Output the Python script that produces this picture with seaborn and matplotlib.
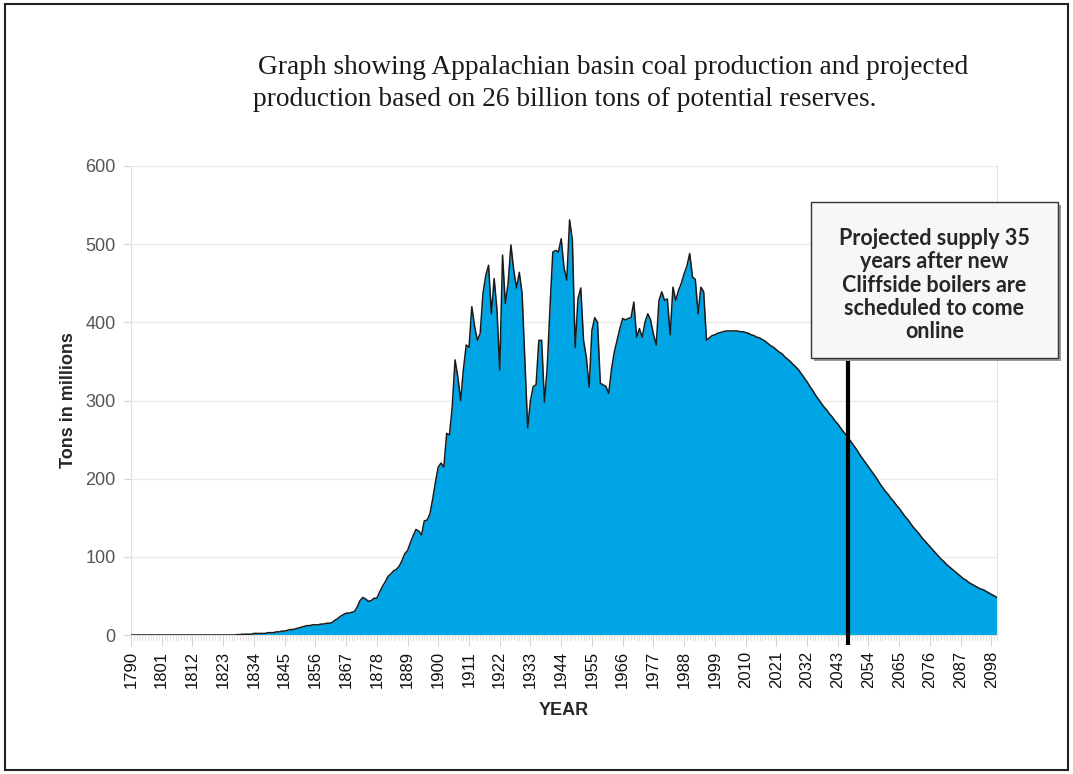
import numpy as np
import pandas as pd
import seaborn as sns
import matplotlib.pyplot as plt
from matplotlib.patches import Rectangle

# Appalachian basin coal production, millions of tons per year
first_year = 1790
hist_tons = [
    0, 0, 0, 0, 0, 0, 0, 0, 0, 0,                      # 1790s
    0, 0, 0, 0, 0, 0, 0, 0, 0, 0,                      # 1800s
    0, 0, 0, 0, 0, 0, 0, 0, 0, 0,                      # 1810s
    0, 0, 0, 0, 0, 0, 0, 0, 0.5, 0.5,                  # 1820s
    1, 1, 1, 1, 2, 2, 2, 2, 2, 3,                      # 1830s
    3, 3, 4, 4, 5, 5, 6, 7, 7, 8,                      # 1840s
    9, 10, 11, 12, 12, 13, 13, 13, 14, 14,             # 1850s
    15, 15, 16, 19, 21, 24, 26, 28, 28, 29,            # 1860s
    30, 36, 44, 48, 46, 43, 44, 47, 47, 55,            # 1870s
    62, 68, 75, 78, 82, 84, 88, 95, 104, 108,          # 1880s
    118, 127, 135, 133, 128, 146, 147, 155, 174, 196,  # 1890s
    215, 220, 215, 258, 256, 292, 352, 330, 300, 340,  # 1900s
    371, 368, 420, 395, 377, 386, 437, 460, 473, 411,  # 1910s
    456, 416, 339, 486, 424, 450, 499, 467, 444, 464,  # 1920s
    437, 350, 265, 300, 318, 320, 377, 377, 298, 343,  # 1930s
    420, 490, 492, 490, 507, 470, 454, 531, 505, 368,  # 1940s
    430, 444, 377, 355, 317, 390, 406, 400, 322, 320,  # 1950s
    318, 309, 340, 362, 377, 392, 405, 403, 405, 406,  # 1960s
    426, 381, 392, 381, 400, 411, 403, 385, 371, 428,  # 1970s
    439, 428, 430, 384, 445, 428, 441, 450, 462, 472,  # 1980s
    488, 458, 455, 411, 445, 439,                      # 1990-1995
]
# projected production, 1996-2100
proj_tons = [
    377, 380, 383, 384,
    386, 387, 388, 389, 389, 389, 389, 389, 388, 388,
    387, 386, 384, 383, 381, 380, 378, 376, 373, 370,
    368, 365, 362, 360, 356, 353, 350, 346, 343, 339,
    334, 329, 324, 318, 313, 307, 302, 297, 292, 288,
    283, 279, 274, 270, 265, 260, 256, 251, 246, 241,
    236, 230, 225, 220, 215, 210, 205, 200, 194, 189,
    184, 180, 175, 171, 166, 162, 157, 152, 148, 143,
    138, 134, 130, 125, 121, 117, 113, 109, 105, 101,
    97, 94, 90, 87, 84, 81, 78, 75, 72, 70,
    67, 65, 63, 61, 59, 58, 56, 54, 52, 50,
    48,
]
tick_years = list(range(1790, 2100, 11))
marker_year = 2046.5
title_lines = ["Graph showing Appalachian basin coal production and projected",
               "production based on 26 billion tons of potential reserves."]
note = "Projected supply 35\nyears after new\nCliffside boilers are\nscheduled to come\nonline"

tons = hist_tons + proj_tons
df = pd.DataFrame({"year": np.arange(first_year, first_year + len(tons)), "tons": tons})

sns.set_style("white")
plt.rcParams["font.family"] = ["Liberation Sans", "DejaVu Sans"]

fig = plt.figure(figsize=(10.73, 7.74), dpi=100)
ax = fig.add_axes([131 / 1073, 1 - 635 / 774, 866 / 1073, 469 / 774])

ax.fill_between(df["year"], df["tons"], color="#00a5e6", linewidth=0, zorder=2)
sns.lineplot(data=df, x="year", y="tons", color="#1a1a1a", linewidth=1.1, ax=ax, zorder=3)

ax.set_xlim(1790, 2100)
ax.set_ylim(0, 600)
ax.set_yticks(range(0, 601, 100))
ax.set_xticks(tick_years)
ax.set_xticks(range(1790, 2101), minor=True)
ax.tick_params(axis="x", which="major", bottom=True, length=8, color="#d8d4d0",
               labelrotation=90, labelsize=12, labelcolor="#111111")
ax.tick_params(axis="x", which="minor", bottom=True, length=4, color="#e2dedb")
ax.tick_params(axis="y", left=True, length=5, color="#d8d4d0", labelsize=13,
               labelcolor="#555555", pad=6)
ax.yaxis.grid(True, color="#eeeae6", linewidth=1)
ax.set_axisbelow(True)
for side in ["left", "right", "bottom"]:
    ax.spines[side].set_color("#e4e0dc")
ax.spines["top"].set_visible(False)

ax.set_xlabel("YEAR", fontsize=13, fontweight="bold")
ax.xaxis.set_label_coords(0.5, -0.142)
ax.set_ylabel("Tons in millions", fontsize=13, fontweight="bold")
ax.yaxis.set_label_coords(-0.062, 0.5)

# title
fig.text(258 / 1073, 1 - 68 / 774, title_lines[0], family="Liberation Serif",
         fontsize=19.7, va="center", ha="left", color="#1a1a1a")
fig.text(253 / 1073, 1 - 100 / 774, title_lines[1], family="Liberation Serif",
         fontsize=19.7, va="center", ha="left", color="#1a1a1a")

# marker line and note box
ax.plot([marker_year, marker_year], [-13, 354], color="black", linewidth=3,
        clip_on=False, zorder=5, solid_capstyle="butt")
bx, by, bw, bh = 811 / 1073, 1 - 358 / 774, 247 / 1073, 156 / 774
fig.add_artist(Rectangle((bx + 3 / 1073, by - 3 / 774), bw, bh, transform=fig.transFigure,
                         facecolor="#9a9a9a", edgecolor="none", zorder=8))
fig.add_artist(Rectangle((bx, by), bw, bh, transform=fig.transFigure,
                         facecolor="#f7f7f7", edgecolor="#333333", linewidth=1, zorder=9))
fig.text(bx + bw / 2, 1 - 285 / 774, note, family="Lato", fontweight="bold",
         fontsize=15.5, ha="center", va="center", linespacing=1.12, zorder=10)

# outer frame
fig.add_artist(Rectangle((5 / 1073, 4 / 774), 1063 / 1073, 766 / 774, transform=fig.transFigure,
                         fill=False, edgecolor="#222222", linewidth=1.5))

fig.savefig("out.png", dpi=100)
